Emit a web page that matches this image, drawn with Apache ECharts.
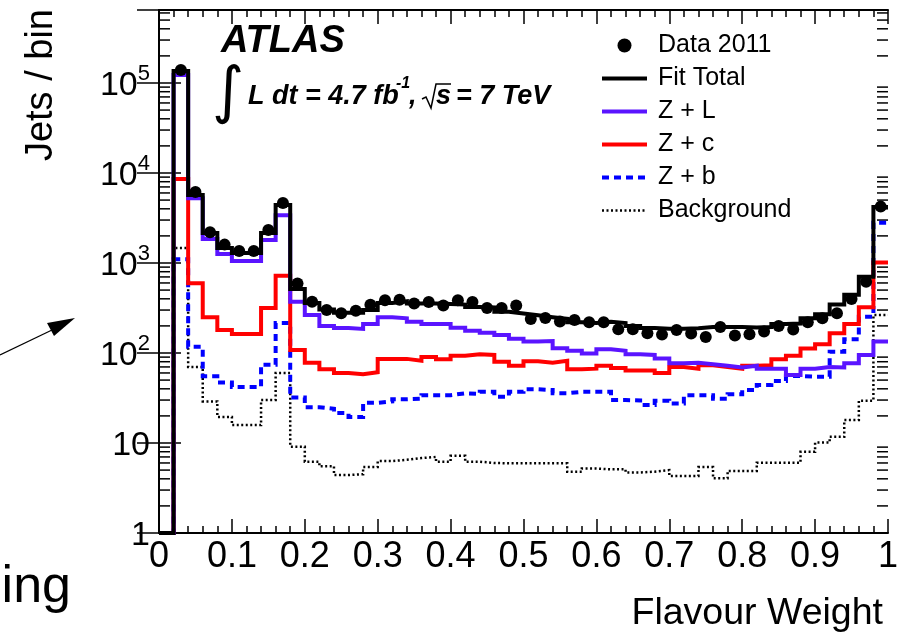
<!DOCTYPE html>
<html>
<head>
<meta charset="utf-8">
<script src="https://cdn.jsdelivr.net/npm/echarts@6/dist/echarts.min.js"></script>
<style>
  html, body { margin: 0; padding: 0; background: #ffffff; }
  #chart { width: 901px; height: 634px; }
</style>
</head>
<body>
<div id="chart"></div>
<script>
// Flavour-weight distribution: 50 bins of width 0.02 between 0 and 1.
const binWidth = 0.02;

// Observed jets per bin (bin 0 is empty).
const dataCounts = [null, 139000, 6150, 2200, 1600, 1360, 1360, 2320, 4650, 590,
  370, 300, 277, 294, 343, 385, 390, 355, 369, 338,
  385, 369, 316, 316, 338, 239, 245, 224, 233, 220,
  220, 183, 183, 166, 160, 180, 165, 151, 194, 156,
  162, 173, 200, 182, 220, 243, 276, 398, 620, 4230];

// Fitted templates (bin 0 sits at the bottom of the axis).
const fitTotal = [1, 136000, 5700, 2150, 1470, 1290, 1290, 2150, 4400, 515,
  360, 305, 280, 280, 300, 360, 375, 355, 355, 350,
  345, 325, 320, 288, 275, 262, 250, 240, 220, 215,
  222, 215, 200, 190, 186, 186, 188, 194, 194, 194,
  192, 194, 210, 212, 243, 270, 345, 445, 705, 4180];

const zLight = [1, 123000, 5240, 1850, 1260, 1050, 1050, 1800, 3400, 370,
  265, 200, 190, 185, 210, 250, 243, 223, 210, 210,
  191, 177, 168, 158, 144, 134, 136, 113, 106, 99,
  110, 106, 97, 95, 87, 77, 78, 75, 72, 69,
  72, 67, 67, 57, 67, 70, 69, 77, 95, 134];

const zCharm = [1, 8600, 594, 250, 180, 163, 163, 316, 720, 108,
  78, 66, 60, 58, 61, 86, 86, 82, 90, 85,
  93, 97, 95, 80, 72, 81, 78, 82, 66, 67,
  72, 68, 64, 64, 60, 70, 67, 73, 70, 67,
  72, 73, 85, 93, 112, 125, 166, 210, 322, 1010];

const zBottom = [1, 1100, 117, 55, 47, 42, 42, 74, 215, 32,
  25, 24, 21.5, 19.4, 28, 29, 30.6, 31, 34, 34,
  35.7, 35, 37, 32.7, 37, 39.5, 38.8, 35.7, 37, 37,
  37, 30, 29.7, 26.5, 29.5, 27.5, 34, 34, 31, 34.8,
  38.8, 44, 49, 55.5, 54.6, 54.6, 103, 142, 253, 2800];

const backgroundCounts = [1, 1470, 70, 29, 19.5, 15.8, 15.8, 30, 60, 9.1,
  6.2, 5.5, 4.4, 4.5, 5.4, 6.3, 6.5, 6.8, 7.0, 6.2,
  7.2, 6.2, 6.0, 5.95, 5.95, 5.95, 5.95, 5.95, 4.8, 5.2,
  5.1, 5.1, 4.7, 4.8, 5.0, 4.3, 4.3, 5.4, 4.05, 4.9,
  4.9, 6.05, 6.05, 6.05, 8.0, 10.1, 11.7, 18, 29.5, 264];

const seriesNames = ['Data 2011', 'Fit Total', 'Z + L', 'Z + c', 'Z + b', 'Background'];

// Axis ranges and tick layout.
const xMin = 0, xMax = 1, xStep = 0.1;
const yMin = 1, yMax = 647000;
const decadeExponents = [0, 1, 2, 3, 4, 5];
const minorMultipliers = [2, 3, 4, 5, 6, 7, 8, 9];

const FONT = 'Liberation Sans, Arial, Helvetica, sans-serif';

// Line styles of the fitted outlines.
const styles = {
  'Fit Total': { color: '#000000', width: 4, type: 'solid' },
  'Z + L': { color: '#5a14ff', width: 4, type: 'solid' },
  'Z + c': { color: '#ff0000', width: 4, type: 'solid' },
  'Z + b': { color: '#0000ff', width: 4, type: [7, 5] },
  'Background': { color: '#000000', width: 2.5, type: [2, 2.5] }
};

// Histogram outline: a flat segment across every bin.
function stepPoints(values) {
  const pts = [];
  values.forEach(function (v, i) {
    pts.push([i * binWidth, v]);
    pts.push([(i + 1) * binWidth, v]);
  });
  return pts;
}

function binCentres(values) {
  const pts = [];
  values.forEach(function (v, i) {
    if (v != null) pts.push([(i + 0.5) * binWidth, v]);
  });
  return pts;
}

const minorTickValues = [];
decadeExponents.forEach(function (e) {
  minorMultipliers.forEach(function (m) {
    const v = m * Math.pow(10, e);
    if (v < yMax) minorTickValues.push(v);
  });
});

function yLabel(value) {
  const e = Math.round(Math.log10(value));
  if (Math.abs(value - Math.pow(10, e)) > 1e-6 * value) return '';
  if (e === 0) return '{b|1}';
  if (e === 1) return '{b|10}';
  return '{b|10}{s|' + e + '}';
}

const axisLine = { show: true, lineStyle: { color: '#000', width: 2 } };

function xAxisDef(pos, showLabels) {
  return {
    type: 'value', position: pos, min: xMin, max: xMax, interval: xStep,
    axisLine: axisLine,
    axisTick: { show: true, inside: true, length: 14, lineStyle: { color: '#000', width: 1.5 } },
    minorTick: { show: true, splitNumber: 5, length: 7, lineStyle: { color: '#000', width: 1.5 } },
    splitLine: { show: false },
    axisLabel: {
      show: showLabels, margin: 6, color: '#000', fontSize: 36, fontFamily: FONT,
      formatter: function (v) { return String(Math.round(v * 10) / 10); }
    }
  };
}

function yAxisDef(pos, showLabels) {
  return {
    type: 'log', logBase: 10, position: pos, min: yMin, max: yMax,
    axisLine: axisLine,
    axisTick: { show: true, inside: true, length: 22, lineStyle: { color: '#000', width: 1.5 } },
    splitLine: { show: false },
    axisLabel: {
      show: showLabels, margin: 9, color: '#000', formatter: yLabel,
      rich: {
        b: { fontSize: 34, fontFamily: FONT, color: '#000', lineHeight: 40, verticalAlign: 'bottom' },
        s: { fontSize: 22, fontFamily: FONT, color: '#000', lineHeight: 22, verticalAlign: 'top' }
      }
    }
  };
}

function histLine(name, values, z) {
  const s = styles[name];
  return {
    name: name, type: 'line', data: stepPoints(values),
    xAxisIndex: 0, yAxisIndex: 0,
    symbol: 'none', showSymbol: false, z: z,
    lineStyle: { color: s.color, width: s.width, type: s.type, cap: 'butt', join: 'miter' },
    itemStyle: { color: s.color }
  };
}

function legendLine(name) {
  const s = styles[name];
  return {
    name: name,
    itemStyle: { opacity: 0 },
    lineStyle: { color: s.color, width: s.width, type: s.type }
  };
}

const chart = echarts.init(document.getElementById('chart'), null, { renderer: 'canvas' });

chart.setOption({
  animation: false,
  backgroundColor: '#ffffff',
  grid: { left: 159, right: 8, top: 10, bottom: 101, containLabel: false },
  xAxis: [xAxisDef('bottom', true), xAxisDef('top', false)],
  yAxis: [yAxisDef('left', true), yAxisDef('right', false)],
  legend: {
    orient: 'vertical', left: 600, top: 33, padding: 0,
    itemWidth: 45, itemHeight: 14, itemGap: 8,
    textStyle: { fontSize: 25, fontFamily: FONT, color: '#000', lineHeight: 25, padding: [0, 0, 0, 6] },
    data: [
      { name: seriesNames[0], icon: 'circle', itemStyle: { color: '#000', opacity: 1 } },
      legendLine(seriesNames[1]),
      legendLine(seriesNames[2]),
      legendLine(seriesNames[3]),
      legendLine(seriesNames[4]),
      legendLine(seriesNames[5])
    ]
  },
  series: [
    histLine(seriesNames[5], backgroundCounts, 2),
    histLine(seriesNames[4], zBottom, 3),
    histLine(seriesNames[3], zCharm, 4),
    histLine(seriesNames[2], zLight, 5),
    histLine(seriesNames[1], fitTotal, 6),
    {
      name: seriesNames[0], type: 'scatter', data: binCentres(dataCounts),
      xAxisIndex: 0, yAxisIndex: 0, symbol: 'circle', symbolSize: 12, z: 8,
      itemStyle: { color: '#000000', opacity: 1 }
    },
    {
      // minor logarithmic ticks on both vertical frame edges
      type: 'custom', silent: true, xAxisIndex: 0, yAxisIndex: 0, clip: false, z: 1,
      data: minorTickValues.map(function (v) { return [xMin, v]; }),
      encode: { x: 0, y: 1 },
      renderItem: function (params, api) {
        const v = api.value(1);
        const pl = api.coord([xMin, v]);
        const pr = api.coord([xMax, v]);
        const st = { stroke: '#000', lineWidth: 1.5 };
        return {
          type: 'group', children: [
            { type: 'line', shape: { x1: pl[0], y1: pl[1], x2: pl[0] + 11, y2: pl[1] }, style: st },
            { type: 'line', shape: { x1: pr[0] - 11, y1: pr[1], x2: pr[0], y2: pr[1] }, style: st }
          ]
        };
      }
    }
  ],
  graphic: [
    { type: 'text', x: 221, y: 42, style: { text: 'ATLAS', fill: '#000', fontSize: 38, fontWeight: 'bold', fontStyle: 'italic', fontFamily: FONT, align: 'left', verticalAlign: 'middle' } },
    { type: 'text', x: 228, y: 95, style: { text: '\u222B', fill: '#000', fontSize: 62, fontFamily: 'DejaVu Sans', align: 'center', verticalAlign: 'middle' } },
    { type: 'text', x: 248, y: 97, style: { text: 'L dt = 4.7 fb', fill: '#000', fontSize: 27, fontWeight: 'bold', fontStyle: 'italic', fontFamily: FONT, align: 'left', verticalAlign: 'middle' } },
    { type: 'text', x: 396, y: 84, style: { text: '-1', fill: '#000', fontSize: 16, fontWeight: 'bold', fontStyle: 'italic', fontFamily: FONT, align: 'left', verticalAlign: 'middle' } },
    { type: 'text', x: 409, y: 97, style: { text: ',', fill: '#000', fontSize: 27, fontWeight: 'bold', fontStyle: 'italic', fontFamily: FONT, align: 'left', verticalAlign: 'middle' } },
    { type: 'polyline', shape: { points: [[422, 99], [426, 97], [431, 108], [436, 84], [451, 84]] }, style: { stroke: '#000', lineWidth: 1.5, fill: null } },
    { type: 'text', x: 436, y: 97, style: { text: 's', fill: '#000', fontSize: 27, fontWeight: 'bold', fontStyle: 'italic', fontFamily: FONT, align: 'left', verticalAlign: 'middle' } },
    { type: 'text', x: 456, y: 97, style: { text: '= 7 TeV', fill: '#000', fontSize: 27, fontWeight: 'bold', fontStyle: 'italic', fontFamily: FONT, align: 'left', verticalAlign: 'middle' } },
    { type: 'text', x: 42, y: 9, rotation: Math.PI / 2, style: { text: 'Jets / bin', fill: '#000', fontSize: 38, fontFamily: FONT, align: 'right', verticalAlign: 'middle' } },
    { type: 'text', x: 883, y: 614, style: { text: 'Flavour Weight', fill: '#000', fontSize: 37.5, fontFamily: FONT, align: 'right', verticalAlign: 'middle' } },
    { type: 'text', x: 71, y: 588, style: { text: 'ing', fill: '#000', fontSize: 52, fontFamily: FONT, align: 'right', verticalAlign: 'middle' } },
    { type: 'line', shape: { x1: 0, y1: 355, x2: 52, y2: 330 }, style: { stroke: '#000', lineWidth: 1.2 } },
    { type: 'polygon', shape: { points: [[75, 318], [54, 336], [47, 323]] }, style: { fill: '#000' } }
  ]
});
</script>
</body>
</html>
